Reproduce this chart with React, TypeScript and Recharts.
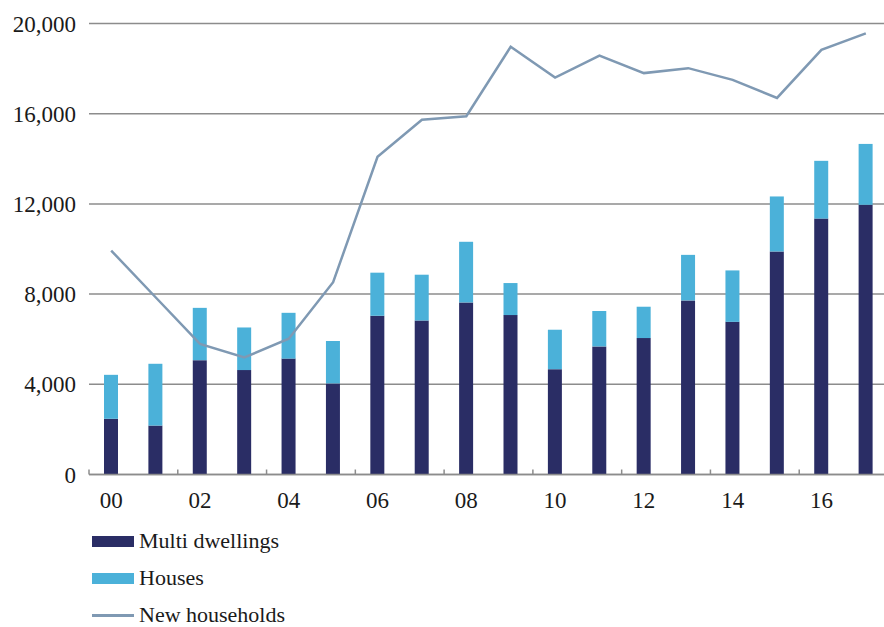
import React from 'react';
import { ComposedChart, Bar, Line, XAxis, YAxis, CartesianGrid } from 'recharts';

const years = ['00', '01', '02', '03', '04', '05', '06', '07', '08', '09', '10', '11', '12', '13', '14', '15', '16', '17'];
const multiDwellings = [2470, 2170, 5070, 4630, 5140, 4040, 7040, 6830, 7630, 7070, 4670, 5680, 6050, 7720, 6770, 9890, 11350, 11960];
const houses = [1950, 2740, 2320, 1890, 2030, 1880, 1910, 2030, 2690, 1420, 1750, 1570, 1390, 2020, 2280, 2440, 2560, 2700];
const newHouseholds = [9930, 7860, 5790, 5190, 6020, 8530, 14090, 15730, 15890, 18970, 17600, 18580, 17800, 18020, 17500, 16700, 18830, 19560];
const yTicks = [0, 4000, 8000, 12000, 16000, 20000];

const data = years.map((year, i) => ({
  year,
  multi: multiDwellings[i],
  houses: houses[i],
  households: newHouseholds[i],
}));

const FONT = '"Liberation Serif", "Times New Roman", serif';
const DARK = '#2a2d65';
const LIGHT = '#4bb1d9';
const LINE = '#7f99b3';

const CHART_W = 888;
const Y_AXIS_W = 89;
const BAND = (CHART_W - Y_AXIS_W) / years.length;

// Labels on every other year, tick marks sit on the category boundary
const YearTick = (props: any) => {
  const { x, y, index } = props;
  if (index % 2 !== 0) return null;
  const bx = x - BAND / 2;
  return (
    <g>
      <line x1={bx} y1={y} x2={bx} y2={y - 5} stroke="#8c8c8c" strokeWidth={1.5} />
      <text x={x} y={y + 33.5} textAnchor="middle" fill="#1a1a1a" fontSize={23} fontFamily={FONT}>
        {props.payload.value}
      </text>
    </g>
  );
};

const legendItems = [
  { label: 'Multi dwellings', color: DARK, kind: 'bar' },
  { label: 'Houses', color: LIGHT, kind: 'bar' },
  { label: 'New households', color: LINE, kind: 'line' },
];

export default function App() {
  return (
    <div style={{ position: 'absolute', left: 0, top: 0, width: 884, height: 627, overflow: 'hidden', background: '#fff' }}>
      <ComposedChart
        width={CHART_W}
        height={627}
        data={data}
        margin={{ top: 23.5, right: 0, left: 0, bottom: 122.5 }}
        barSize={14}
      >
        <CartesianGrid vertical={false} stroke="#8c8c8c" strokeWidth={1.5} />
        <XAxis
          dataKey="year"
          interval={0}
          height={30}
          tickSize={0}
          tickMargin={0}
          tickLine={false}
          axisLine={{ stroke: '#8c8c8c', strokeWidth: 1.5 }}
          tick={<YearTick />}
        />
        <YAxis
          width={Y_AXIS_W}
          domain={[0, 20000]}
          ticks={yTicks}
          interval={0}
          axisLine={false}
          tickLine={false}
          tickSize={0}
          tickMargin={13}
          tickFormatter={(v: number) => v.toLocaleString('en-US')}
          tick={{ fill: '#1a1a1a', fontSize: 23, fontFamily: FONT }}
        />
        <Bar dataKey="multi" stackId="a" fill={DARK} isAnimationActive={false} />
        <Bar dataKey="houses" stackId="a" fill={LIGHT} isAnimationActive={false} />
        <Line
          type="linear"
          dataKey="households"
          stroke={LINE}
          strokeWidth={2.5}
          dot={false}
          activeDot={false}
          isAnimationActive={false}
        />
      </ComposedChart>

      {/* Legend, stacked below the plot */}
      <div style={{ position: 'absolute', left: 92, top: 531, fontFamily: FONT, fontSize: 22, lineHeight: '20px', color: '#1a1a1a' }}>
        {legendItems.map((item) => (
          <div key={item.label} style={{ display: 'flex', alignItems: 'center', height: 20, marginBottom: 17 }}>
            <span
              style={{
                display: 'inline-block',
                width: 42,
                height: item.kind === 'bar' ? 11 : 3,
                background: item.color,
                marginRight: 5,
              }}
            />
            <span>{item.label}</span>
          </div>
        ))}
      </div>
    </div>
  );
}
